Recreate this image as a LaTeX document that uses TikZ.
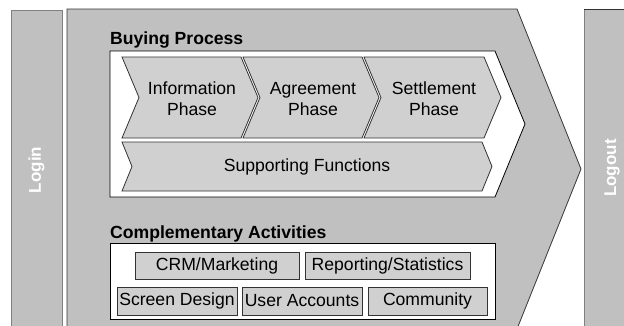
\documentclass[tikz,border=0pt]{standalone}
\usepackage{fontspec}
\setmainfont{Liberation Sans}
\definecolor{outergray}{HTML}{C0C0C0}
\definecolor{innergray}{HTML}{D0D0D0}
\definecolor{edgegray}{HTML}{808080}
\definecolor{darkedge}{HTML}{333333}
\begin{document}
\begin{tikzpicture}[x=1pt,y=-1pt,
  every node/.style={font=\fontsize{17.6pt}{21pt}\selectfont, inner sep=0pt, align=center},
  sidebar/.style={fill=outergray, draw=edgegray, line width=1pt},
  mainshape/.style={fill=outergray, draw=darkedge, line width=0.8pt},
  whitebox/.style={fill=white, draw=black, line width=0.8pt},
  phase/.style={fill=innergray, draw=darkedge, line width=0.8pt},
  actbox/.style={fill=innergray, draw=darkedge, line width=0.8pt},
  sidelabel/.style={rotate=90, text=white, font=\fontsize{17pt}{20pt}\selectfont\bfseries},
  title/.style={anchor=base west, font=\fontsize{17.6pt}{21pt}\selectfont\bfseries}
]
\useasboundingbox (0,0) rectangle (624,325);
\clip (0,0) rectangle (624,325);
% side bars
\draw[sidebar] (11,10) rectangle (62,340);
\draw[sidebar] (584,9) rectangle (645,340);
\draw[darkedge, line width=1pt] (584,9) -- (645,9);
\node[sidelabel] (login) at (36.5,170) {Login};
\node[sidelabel] (logout) at (612,168) {Logout};
% main chevron
\draw[mainshape] (67,9) -- (517,9) -- (581,169) -- (517,329) -- (67,329) -- cycle;
% buying process
\node[title] (buying) at (110,44) {Buying Process};
\draw[whitebox] (110,51) -- (495,51) -- (525,124) -- (495,197) -- (110,197) -- cycle;
\draw[phase] (122,57) -- (241,57) -- (258,97.5) -- (241,138) -- (122,138) -- (139,97.5) -- cycle;
\draw[phase] (243,57) -- (362,57) -- (379,97.5) -- (362,138) -- (243,138) -- (260,97.5) -- cycle;
\draw[phase] (364,57) -- (484,57) -- (501,97.5) -- (484,138) -- (364,138) -- (381,97.5) -- cycle;
\draw[phase] (122,142) -- (482,142) -- (492,166.5) -- (482,191) -- (122,191) -- (132,166.5) -- cycle;
\node (info) at (192,99) {Information\\Phase};
\node (agree) at (313,99) {Agreement\\Phase};
\node (settle) at (434,99) {Settlement\\Phase};
\node (support) at (307,167) {Supporting Functions};
% complementary activities
\node[title] (compl) at (110,238) {Complementary Activities};
\draw[whitebox] (110,243) rectangle (495,319);
\node[actbox, minimum width=164pt, minimum height=27pt] (crm) at (217,265.5) {CRM/Marketing};
\node[actbox, minimum width=165pt, minimum height=27pt] (report) at (387.5,265.5) {Reporting/Statistics};
\node[actbox, minimum width=120pt, minimum height=28pt] (screen) at (177,301) {Screen Design};
\node[actbox, minimum width=120pt, minimum height=28pt] (users) at (302,301) {User Accounts};
\node[actbox, minimum width=119pt, minimum height=28pt] (community) at (427.5,301) {Community};
\end{tikzpicture}
\end{document}
